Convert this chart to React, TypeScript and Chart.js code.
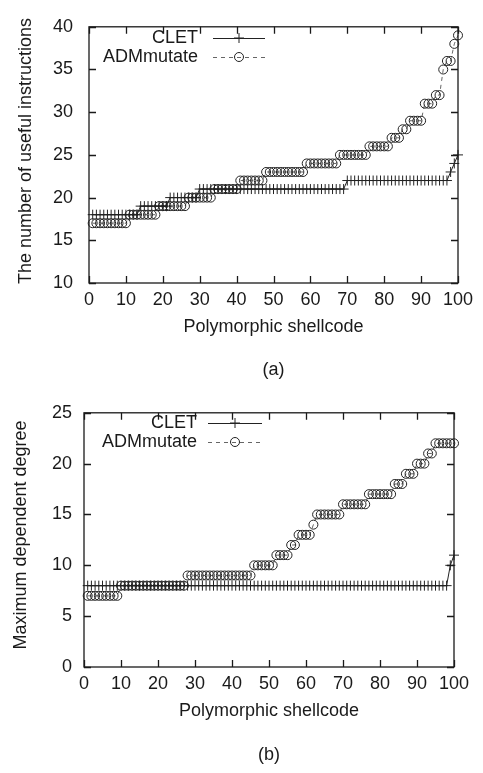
import React, { useEffect, useRef } from 'react';
import { Chart, registerables } from 'chart.js';

Chart.register(...registerables);

// Shellcode sample index (1..100)
const shellcodeIds = [
  1, 2, 3, 4, 5, 6, 7, 8, 9, 10, 11, 12, 13, 14, 15, 16, 17, 18, 19, 20,
  21, 22, 23, 24, 25, 26, 27, 28, 29, 30, 31, 32, 33, 34, 35, 36, 37, 38, 39, 40,
  41, 42, 43, 44, 45, 46, 47, 48, 49, 50, 51, 52, 53, 54, 55, 56, 57, 58, 59, 60,
  61, 62, 63, 64, 65, 66, 67, 68, 69, 70, 71, 72, 73, 74, 75, 76, 77, 78, 79, 80,
  81, 82, 83, 84, 85, 86, 87, 88, 89, 90, 91, 92, 93, 94, 95, 96, 97, 98, 99, 100,
];

// (a) number of useful instructions
const cletUseful = [
  18, 18, 18, 18, 18, 18, 18, 18, 18, 18,
  18, 18, 18, 19, 19, 19, 19, 19, 19, 19,
  19, 20, 20, 20, 20, 20, 20, 20, 20, 21,
  21, 21, 21, 21, 21, 21, 21, 21, 21, 21,
  21, 21, 21, 21, 21, 21, 21, 21, 21, 21,
  21, 21, 21, 21, 21, 21, 21, 21, 21, 21,
  21, 21, 21, 21, 21, 21, 21, 21, 21, 22,
  22, 22, 22, 22, 22, 22, 22, 22, 22, 22,
  22, 22, 22, 22, 22, 22, 22, 22, 22, 22,
  22, 22, 22, 22, 22, 22, 22, 23, 24, 25,
];
const admUseful = [
  17, 17, 17, 17, 17, 17, 17, 17, 17, 17,
  18, 18, 18, 18, 18, 18, 18, 18, 19, 19,
  19, 19, 19, 19, 19, 19, 20, 20, 20, 20,
  20, 20, 20, 21, 21, 21, 21, 21, 21, 21,
  22, 22, 22, 22, 22, 22, 22, 23, 23, 23,
  23, 23, 23, 23, 23, 23, 23, 23, 24, 24,
  24, 24, 24, 24, 24, 24, 24, 25, 25, 25,
  25, 25, 25, 25, 25, 26, 26, 26, 26, 26,
  26, 27, 27, 27, 28, 28, 29, 29, 29, 29,
  31, 31, 31, 32, 32, 35, 36, 36, 38, 39,
];

// (b) maximum dependent degree
const cletDegree = [
  8, 8, 8, 8, 8, 8, 8, 8, 8, 8,
  8, 8, 8, 8, 8, 8, 8, 8, 8, 8,
  8, 8, 8, 8, 8, 8, 8, 8, 8, 8,
  8, 8, 8, 8, 8, 8, 8, 8, 8, 8,
  8, 8, 8, 8, 8, 8, 8, 8, 8, 8,
  8, 8, 8, 8, 8, 8, 8, 8, 8, 8,
  8, 8, 8, 8, 8, 8, 8, 8, 8, 8,
  8, 8, 8, 8, 8, 8, 8, 8, 8, 8,
  8, 8, 8, 8, 8, 8, 8, 8, 8, 8,
  8, 8, 8, 8, 8, 8, 8, 8, 10, 11,
];
const admDegree = [
  7, 7, 7, 7, 7, 7, 7, 7, 7, 8,
  8, 8, 8, 8, 8, 8, 8, 8, 8, 8,
  8, 8, 8, 8, 8, 8, 8, 9, 9, 9,
  9, 9, 9, 9, 9, 9, 9, 9, 9, 9,
  9, 9, 9, 9, 9, 10, 10, 10, 10, 10,
  10, 11, 11, 11, 11, 12, 12, 13, 13, 13,
  13, 14, 15, 15, 15, 15, 15, 15, 15, 16,
  16, 16, 16, 16, 16, 16, 17, 17, 17, 17,
  17, 17, 17, 18, 18, 18, 19, 19, 19, 20,
  20, 20, 21, 21, 22, 22, 22, 22, 22, 22,
];

const seriesNames = ['CLET', 'ADMmutate'];
const xTitle = 'Polymorphic shellcode';
const yTitleA = 'The number of useful instructions';
const yTitleB = 'Maximum dependent degree';

const FONT = '"Liberation Sans", Arial, sans-serif';
const INK = '#1a1a1a';

const gnuplotPlugin = {
  id: 'gnuplotFrame',
  afterDraw(chart: any, _args: any, opts: any) {
    const { ctx, chartArea, scales } = chart;
    const { left, right, top, bottom } = chartArea;
    ctx.save();
    ctx.strokeStyle = INK;
    ctx.lineWidth = 1.3;
    ctx.setLineDash([]);
    ctx.strokeRect(left, top, right - left, bottom - top);
    const tl = 7;
    ctx.beginPath();
    scales.x.ticks.forEach((t: any) => {
      const px = Math.round(scales.x.getPixelForValue(t.value)) + 0.5;
      ctx.moveTo(px, bottom); ctx.lineTo(px, bottom - tl);
      ctx.moveTo(px, top); ctx.lineTo(px, top + tl);
    });
    scales.y.ticks.forEach((t: any) => {
      const py = Math.round(scales.y.getPixelForValue(t.value)) + 0.5;
      ctx.moveTo(left, py); ctx.lineTo(left + tl, py);
      ctx.moveTo(right, py); ctx.lineTo(right - tl, py);
    });
    ctx.stroke();

    // legend (gnuplot style: right-aligned text, then sample)
    ctx.font = `18px ${FONT}`;
    ctx.fillStyle = INK;
    ctx.textAlign = 'right';
    ctx.textBaseline = 'middle';
    const lg = opts.legend;
    chart.data.datasets.forEach((ds: any, i: number) => {
      const y = lg.y + i * lg.dy;
      ctx.fillText(ds.label, lg.textRight, y);
      ctx.strokeStyle = ds.borderColor;
      ctx.lineWidth = 1;
      ctx.setLineDash(ds.borderDash || []);
      ctx.beginPath();
      ctx.moveTo(lg.x1, y + 0.5); ctx.lineTo(lg.x2, y + 0.5);
      ctx.stroke();
      ctx.setLineDash([]);
      const mx = (lg.x1 + lg.x2) / 2;
      ctx.strokeStyle = ds.pointBorderColor;
      ctx.beginPath();
      if (ds.pointStyle === 'circle') {
        ctx.arc(mx, y, ds.pointRadius, 0, Math.PI * 2);
      } else {
        ctx.moveTo(mx, y - ds.pointRadius); ctx.lineTo(mx, y + ds.pointRadius);
        ctx.moveTo(mx - ds.pointRadius, y); ctx.lineTo(mx + ds.pointRadius, y);
      }
      ctx.stroke();
    });

    // titles
    ctx.fillStyle = INK;
    ctx.textAlign = 'center';
    ctx.textBaseline = 'middle';
    ctx.font = `18px ${FONT}`;
    ctx.fillText(opts.xTitle, (left + right) / 2, opts.xTitleY);
    ctx.fillText(opts.caption, (left + right) / 2, opts.captionY);
    ctx.save();
    ctx.translate(opts.yTitleX, opts.yTitleCY);
    ctx.rotate(-Math.PI / 2);
    ctx.fillText(opts.yTitle, 0, 0);
    ctx.restore();
    ctx.restore();
  },
};

type PanelProps = {
  width: number;
  height: number;
  clet: number[];
  adm: number[];
  yMin: number;
  yMax: number;
  plotLeft: number;
  plotRight: number;
  plotTop: number;
  plotBottom: number;
  yPad: number;
  frame: any;
};

function Panel(p: PanelProps) {
  const ref = useRef<HTMLCanvasElement>(null);
  useEffect(() => {
    if (!ref.current) return;
    const mk = (ys: number[]) => shellcodeIds.map((x, i) => ({ x, y: ys[i] }));
    const chart = new Chart(ref.current, {
      type: 'line',
      data: {
        datasets: [
          {
            label: seriesNames[0],
            data: mk(p.clet),
            borderColor: '#222',
            borderWidth: 1,
            pointStyle: 'cross',
            pointRadius: 5,
            pointBorderColor: '#222',
            pointBackgroundColor: 'transparent',
            pointBorderWidth: 1,
            tension: 0,
            clip: false,
          } as any,
          {
            label: seriesNames[1],
            data: mk(p.adm),
            borderColor: '#666',
            borderWidth: 1,
            borderDash: [4, 4],
            pointStyle: 'circle',
            pointRadius: 4.5,
            pointBorderColor: '#222',
            pointBackgroundColor: 'transparent',
            pointBorderWidth: 1,
            tension: 0,
            clip: false,
          } as any,
        ],
      },
      options: {
        animation: false,
        responsive: false,
        devicePixelRatio: 1,
        events: [],
        layout: {
          padding: {
            left: 0,
            right: p.width - p.plotRight,
            top: p.plotTop,
            bottom: 0,
          },
        },
        plugins: {
          legend: { display: false },
          tooltip: { enabled: false },
          gnuplotFrame: p.frame,
        } as any,
        scales: {
          x: {
            type: 'linear',
            min: 0,
            max: 100,
            grid: { display: false, drawTicks: false },
            border: { display: false },
            ticks: { stepSize: 10, color: INK, font: { family: FONT, size: 18 }, padding: 6, maxRotation: 0, autoSkip: false },
            afterFit: (s: any) => { s.height = p.height - p.plotBottom; },
          },
          y: {
            type: 'linear',
            min: p.yMin,
            max: p.yMax,
            grid: { display: false, drawTicks: false },
            border: { display: false },
            ticks: { stepSize: 5, color: INK, font: { family: FONT, size: 18 }, padding: p.yPad },
            afterFit: (s: any) => { s.width = p.plotLeft; },
          },
        },
      },
      plugins: [gnuplotPlugin],
    });
    return () => chart.destroy();
  }, []);
  return <canvas ref={ref} width={p.width} height={p.height} style={{ display: 'block', width: p.width, height: p.height }} />;
}

export default function App() {
  return (
    <div style={{ position: 'absolute', left: 0, top: 0, width: 483, height: 773, background: '#fff' }}>
      <Panel
        width={483}
        height={390}
        clet={cletUseful}
        adm={admUseful}
        yMin={10}
        yMax={40}
        plotLeft={89}
        plotRight={458}
        plotTop={21}
        plotBottom={283}
        yPad={16}
        frame={{
          legend: { textRight: 198, x1: 213, x2: 265, y: 38, dy: 19 },
          xTitle,
          xTitleY: 327,
          caption: '(a)',
          captionY: 370,
          yTitle: yTitleA,
          yTitleX: 26,
          yTitleCY: 151,
        }}
      />
      <Panel
        width={483}
        height={383}
        clet={cletDegree}
        adm={admDegree}
        yMin={0}
        yMax={25}
        plotLeft={84}
        plotRight={454}
        plotTop={16}
        plotBottom={277}
        yPad={12}
        frame={{
          legend: { textRight: 197, x1: 208, x2: 262, y: 33, dy: 19 },
          xTitle,
          xTitleY: 321,
          caption: '(b)',
          captionY: 365,
          yTitle: yTitleB,
          yTitleX: 21,
          yTitleCY: 145,
        }}
      />
    </div>
  );
}
